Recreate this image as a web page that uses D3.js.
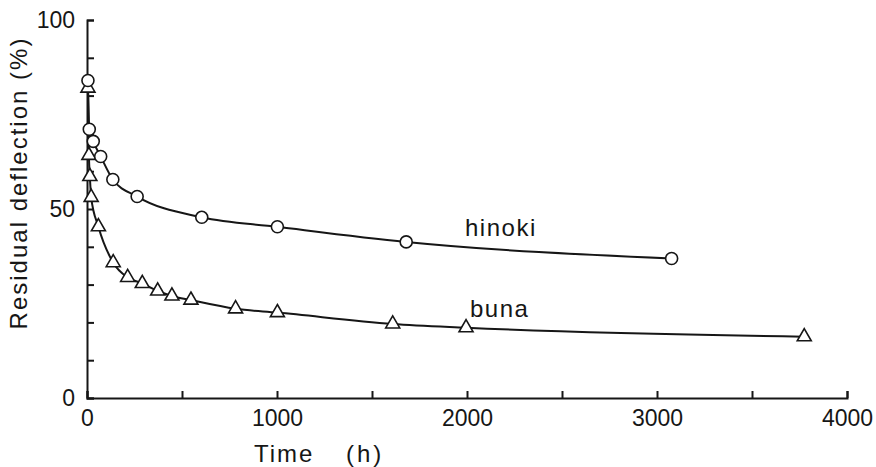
<!DOCTYPE html>
<html>
<head>
<meta charset="utf-8">
<script src="https://cdn.jsdelivr.net/npm/d3@7"></script>
<style>
  html, body { margin: 0; padding: 0; background: #fff; }
  svg { display: block; font-family: "Liberation Sans", Arial, sans-serif; }
</style>
</head>
<body>
<svg id="chart" width="876" height="467"></svg>
<script>
// residual deflection vs time, two species
const hinokiTime = [5, 12, 33, 72, 136, 264, 604, 1002, 1680, 3077];
const hinokiValue = [84, 71.1, 67.9, 63.9, 57.8, 53.3, 47.8, 45.3, 41.3, 36.9];

const bunaTime = [5, 10, 15, 22, 60, 138, 214, 291, 372, 447, 547, 782, 1002, 1609, 1995, 3775];
const bunaValue = [82, 64.2, 58.6, 53.1, 45.3, 35.8, 31.9, 30.3, 28.3, 27, 25.9, 23.6, 22.6, 19.6, 18.6, 16.2];

const xTicks = [0, 500, 1000, 1500, 2000, 2500, 3000, 3500, 4000];
const xLabels = [0, 1000, 2000, 3000, 4000];
const yTicks = [0, 10, 20, 30, 40, 50, 60, 70, 80, 90, 100];
const yLabels = [0, 50, 100];

const svg = d3.select('#chart');
const ink = '#161616';

const x = d3.scaleLinear().domain([0, 4000]).range([87, 847]);
const y = d3.scaleLinear().domain([0, 100]).range([398, 20]);

// axes, ticks point inward
const xAxis = d3.axisBottom(x)
  .tickValues(xTicks)
  .tickSizeInner(-7).tickSizeOuter(-7)
  .tickPadding(12)
  .tickFormat(d => xLabels.includes(d) ? d : '');

const yAxis = d3.axisLeft(y)
  .tickValues(yTicks)
  .tickSizeInner(-7).tickSizeOuter(-7)
  .tickPadding(12)
  .tickFormat(d => yLabels.includes(d) ? d : '');

function styleAxis(g) {
  g.select('.domain').attr('stroke', ink).attr('stroke-width', 2);
  g.selectAll('.tick line').attr('stroke', ink).attr('stroke-width', 2);
  g.selectAll('.tick text').attr('fill', ink).attr('font-size', 23)
    .attr('font-family', '"Liberation Sans", Arial, sans-serif');
}

svg.append('g').attr('transform', `translate(0,${y(0)})`).call(xAxis).call(styleAxis);
svg.append('g').attr('transform', `translate(${x(0)},0)`).call(yAxis).call(styleAxis);

// axis titles
svg.append('text')
  .attr('transform', `translate(27,${(y(100) + y(0)) / 2 - 26}) rotate(-90)`)
  .attr('text-anchor', 'middle')
  .attr('font-size', 24)
  .attr('letter-spacing', 2)
  .attr('fill', ink)
  .text('Residual deflection (%)');

svg.append('text')
  .attr('x', x(1000) - 23).attr('y', 462)
  .attr('font-size', 24).attr('letter-spacing', 2)
  .attr('fill', ink)
  .text('Time');
svg.append('text')
  .attr('x', x(1000) + 69).attr('y', 462)
  .attr('font-size', 24).attr('letter-spacing', 3)
  .attr('fill', ink)
  .text('(h)');

// curves
const line = d3.line()
  .x(d => x(d[0]))
  .y(d => y(d[1]))
  .curve(d3.curveMonotoneX);

const buna = bunaTime.map((t, i) => [t, bunaValue[i]]);
const hinoki = hinokiTime.map((t, i) => [t, hinokiValue[i]]);

svg.append('path').datum(buna)
  .attr('d', line).attr('fill', 'none')
  .attr('stroke', ink).attr('stroke-width', 2);
svg.append('path').datum(hinoki)
  .attr('d', line).attr('fill', 'none')
  .attr('stroke', ink).attr('stroke-width', 2);

// markers: triangles for buna, circles for hinoki (drawn on top)
const tri = d3.symbol().type(d3.symbolTriangle).size(85);
svg.append('g').selectAll('path')
  .data(buna)
  .join('path')
  .attr('d', tri)
  .attr('transform', d => `translate(${x(d[0])},${y(d[1])})`)
  .attr('fill', '#fff').attr('stroke', ink).attr('stroke-width', 1.6);

svg.append('g').selectAll('circle')
  .data(hinoki)
  .join('circle')
  .attr('cx', d => x(d[0]))
  .attr('cy', d => y(d[1]))
  .attr('r', 6)
  .attr('fill', '#fff').attr('stroke', ink).attr('stroke-width', 1.6);

// series labels
svg.append('text')
  .attr('x', 465).attr('y', 236)
  .attr('font-size', 24).attr('letter-spacing', 1.5)
  .attr('fill', ink).text('hinoki');
svg.append('text')
  .attr('x', 470).attr('y', 317)
  .attr('font-size', 24).attr('letter-spacing', 1.5)
  .attr('fill', ink).text('buna');
</script>
</body>
</html>
